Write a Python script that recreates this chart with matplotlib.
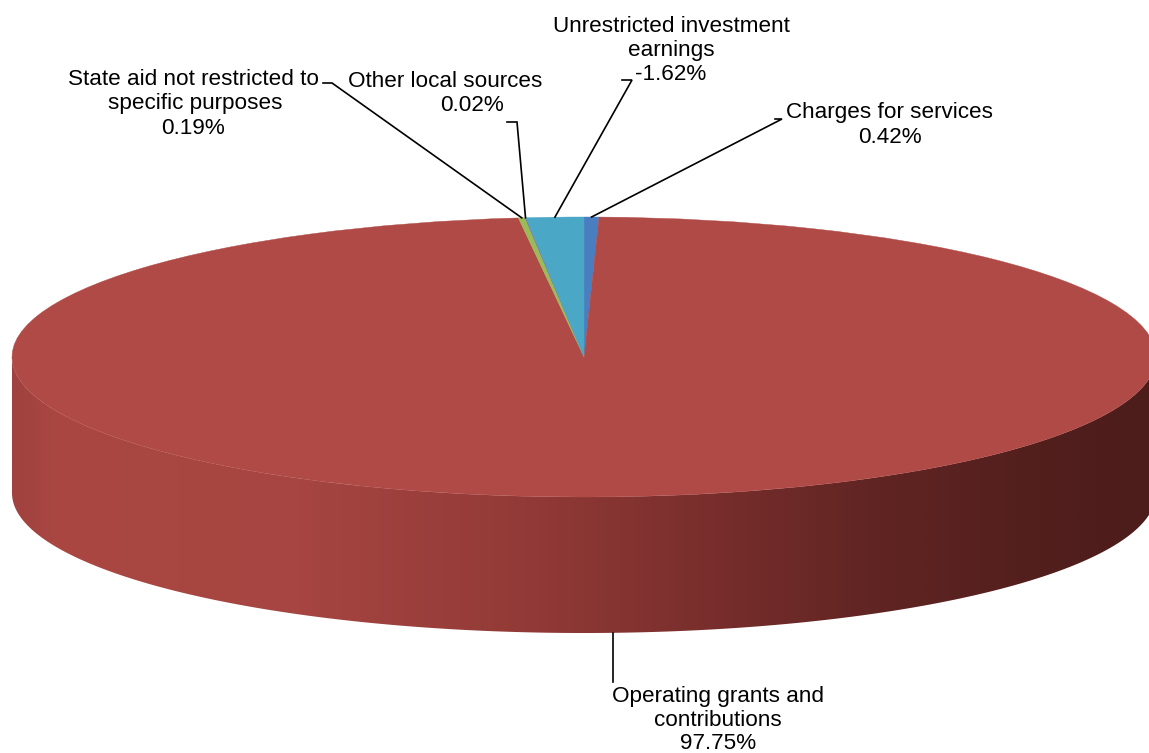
import numpy as np
import matplotlib
matplotlib.use("Agg")
import matplotlib.pyplot as plt
from matplotlib.patches import Polygon
from matplotlib.colors import LinearSegmentedColormap

# ---- data ----
categories = ["Charges for services", "Operating grants and contributions",
              "State aid not restricted to specific purposes", "Other local sources",
              "Unrestricted investment earnings"]
values = [0.42, 97.75, 0.19, 0.02, -1.62]
colors = ["#4A7EC0", "#B04A46", "#9BBB59", "#8064A2", "#4AA8C6"]
label_text = ["Charges for services\n0.42%",
              "Operating grants and\ncontributions\n97.75%",
              "State aid not restricted to\nspecific purposes\n0.19%",
              "Other local sources\n0.02%",
              "Unrestricted investment\nearnings\n-1.62%"]

# ---- layout (pixels) ----
W, H = 1149, 753
cx, cy, A, B = 584, 357, 572, 140
depth_px = 136
font = "Liberation Sans"
fs = 16.2

def X(px):
    return (px - cx) / A

def Y(py):
    return (cy - py) / B

fig = plt.figure(figsize=(W / 100, H / 100), dpi=100)
ax = fig.add_axes([0, 0, 1, 1])

sizes = np.abs(values)
wedges, _ = ax.pie(sizes, colors=colors, startangle=90, counterclock=False,
                   radius=1, center=(0, 0),
                   wedgeprops=dict(linewidth=0.3, edgecolor=None, zorder=3))
for w, c in zip(wedges, colors):
    w.set_edgecolor(c)

# side wall (front half)
d = depth_px / B
t = np.linspace(np.pi, 2 * np.pi, 500)
top = np.column_stack([np.cos(t), np.sin(t)])
bot = np.column_stack([np.cos(t[::-1]), np.sin(t[::-1]) - d])
side = Polygon(np.vstack([top, bot]), closed=True, facecolor="none",
               edgecolor="none", zorder=1)
ax.add_patch(side)
stops = [(0.0, (160, 66, 63)), (0.04, (170, 71, 67)), (0.25, (166, 69, 65)),
         (0.45, (146, 58, 55)), (0.6, (122, 47, 45)), (0.75, (97, 37, 35)),
         (0.9, (82, 31, 29)), (1.0, (76, 29, 27))]
cmap = LinearSegmentedColormap.from_list(
    "side", [(p, tuple(v / 255 for v in c)) for p, c in stops])
grad = np.linspace(0, 1, 512)[None, :]
im = ax.imshow(grad, cmap=cmap, extent=[-1, 1, -1 - d, 0.05], aspect="auto",
               zorder=1, interpolation="bilinear")
im.set_clip_path(side)

# leader lines: anchors on slices computed from values
cum = np.concatenate([[0], np.cumsum(sizes)])
mid_deg = 90 - (cum[:-1] + sizes / 2) / cum[-1] * 360
anch = [(np.cos(np.radians(a)), np.sin(np.radians(a))) for a in mid_deg]

def leader(i, elbow_px, end_px):
    ax_, ay_ = anch[i]
    ax.plot([ax_, X(elbow_px[0]), X(end_px[0])],
            [ay_, Y(elbow_px[1]), Y(end_px[1])], color="black", lw=1.2,
            zorder=5, solid_joinstyle="miter")

leader(0, (782, 119), (775, 119))
leader(2, (332, 83), (323, 83))
leader(3, (517, 122), (507, 122))
leader(4, (632, 80), (622, 80))
# operating grants: vertical from bottom of side
ax.plot([X(613), X(613)], [Y(633), Y(682)], color="black", lw=1.2, zorder=5)

def put(lines_xy, text):
    for (px, py), line in zip(lines_xy, text.split("\n")):
        ax.text(X(px), Y(py), line, ha="center", va="baseline",
                fontsize=fs, family=font, color="black", zorder=6)

put([(890, 118), (890, 143)], label_text[0])
put([(718, 702), (718, 726), (718, 749)], label_text[1])
put([(193, 85), (195, 109), (193, 134)], label_text[2])
put([(445, 87), (472, 111)], label_text[3])
put([(671, 32), (671, 56), (671, 80)], label_text[4])

ax.set_aspect("auto")
ax.set_xlim(X(0), X(W))
ax.set_ylim(Y(H), Y(0))
ax.axis("off")

fig.savefig("out.png", dpi=100)
